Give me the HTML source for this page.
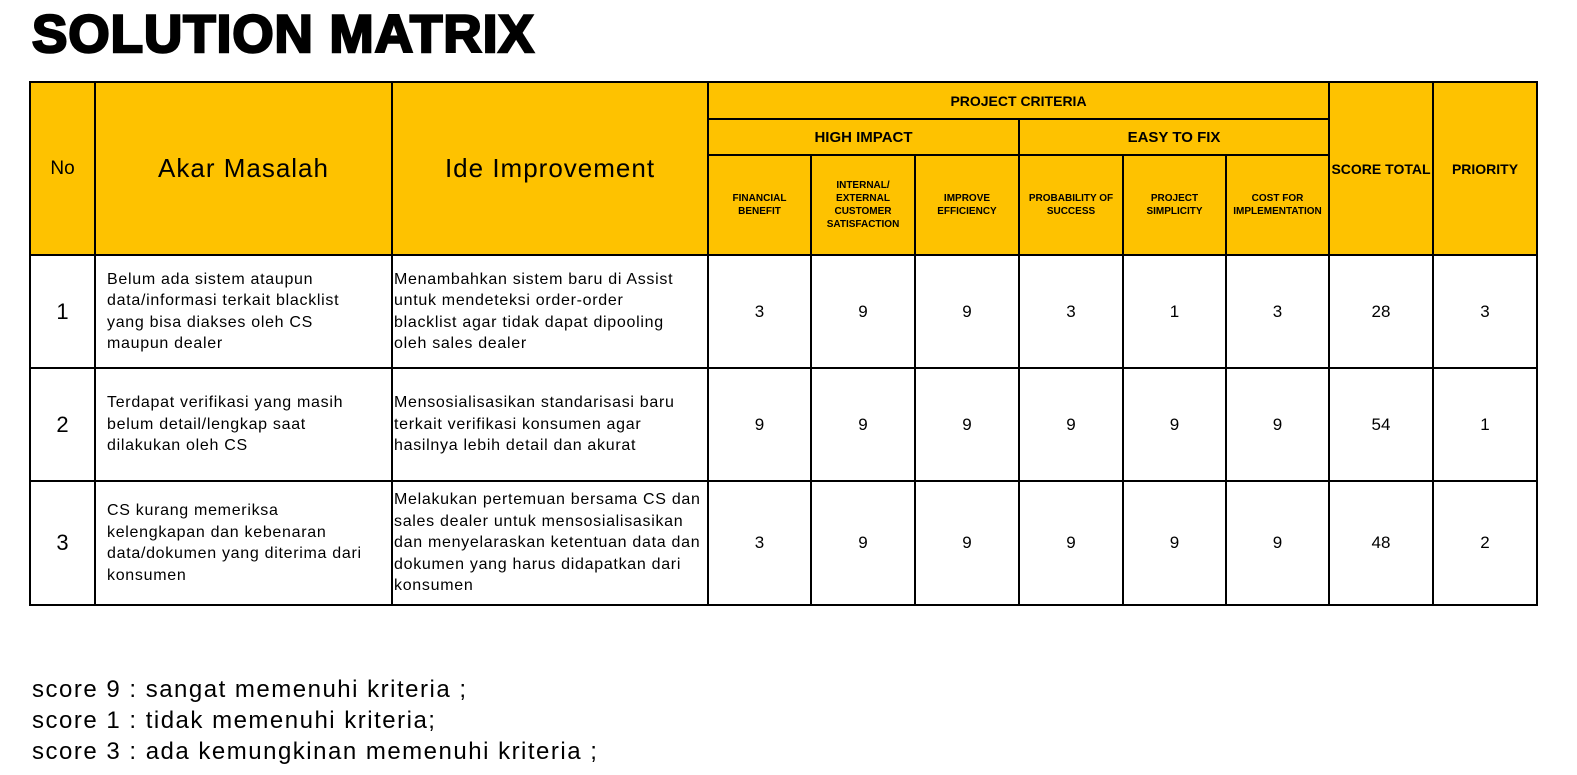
<!DOCTYPE html>
<html><head><meta charset="utf-8"><style>
body{margin:0;width:1577px;height:775px;background:#fff;position:relative;overflow:hidden;font-family:"Liberation Sans","DejaVu Sans",sans-serif;color:#000}
.c{position:absolute;box-sizing:border-box;display:flex;align-items:center;justify-content:center;text-align:center}
.y{background:#fec200}
.ln{position:absolute;background:#000}
#title{position:absolute;left:32px;top:5px;font-size:53px;font-weight:bold;-webkit-text-stroke:2.5px #000;letter-spacing:1px;transform-origin:left top;transform:scaleX(1.0);line-height:60px}
.sm{font-size:10px;font-weight:bold;line-height:13px}
.t{font-size:16px;line-height:21.5px;text-align:left;justify-content:flex-start;letter-spacing:0.7px;white-space:nowrap}
.n{font-size:17px}
.leg{position:absolute;left:32px;font-size:24px;line-height:31px;letter-spacing:1.5px}
</style></head><body>
<div id="title">SOLUTION MATRIX</div>
<div class="c y" style="left:30px;top:82px;width:1507px;height:173px"></div>
<div class="c n" style="left:30px;top:82px;width:65px;height:173px;font-size:19px">No</div>
<div class="c" style="left:95px;top:82px;width:297px;height:173px;font-size:26px;letter-spacing:1px">Akar Masalah</div>
<div class="c" style="left:392px;top:82px;width:316px;height:173px;font-size:26px;letter-spacing:1px">Ide Improvement</div>
<div class="c" style="left:708px;top:82px;width:621px;height:37px;font-size:14px;font-weight:bold">PROJECT CRITERIA</div>
<div class="c" style="left:708px;top:119px;width:311px;height:36px;font-size:15px;font-weight:bold">HIGH IMPACT</div>
<div class="c" style="left:1019px;top:119px;width:310px;height:36px;font-size:15px;font-weight:bold">EASY TO FIX</div>
<div class="c sm" style="left:708px;top:155px;width:103px;height:100px">FINANCIAL<br>BENEFIT</div>
<div class="c sm" style="left:811px;top:155px;width:104px;height:100px">INTERNAL/<br>EXTERNAL<br>CUSTOMER<br>SATISFACTION</div>
<div class="c sm" style="left:915px;top:155px;width:104px;height:100px">IMPROVE<br>EFFICIENCY</div>
<div class="c sm" style="left:1019px;top:155px;width:104px;height:100px">PROBABILITY OF<br>SUCCESS</div>
<div class="c sm" style="left:1123px;top:155px;width:103px;height:100px">PROJECT<br>SIMPLICITY</div>
<div class="c sm" style="left:1226px;top:155px;width:103px;height:100px">COST FOR<br>IMPLEMENTATION</div>
<div class="c" style="left:1329px;top:82px;width:104px;height:173px;font-size:14px;font-weight:bold">SCORE TOTAL</div>
<div class="c" style="left:1433px;top:82px;width:104px;height:173px;font-size:14px;font-weight:bold">PRIORITY</div>
<div id="rows"></div>
<div class="leg" style="top:674px">score 9 : sangat memenuhi kriteria ;</div>
<div class="leg" style="top:705px">score 1 : tidak memenuhi kriteria;</div>
<div class="leg" style="top:736px">score 3 : ada kemungkinan memenuhi kriteria ;</div>
<script>
const problems=["Belum ada sistem ataupun<br>data/informasi terkait blacklist<br>yang bisa diakses oleh CS<br>maupun dealer","Terdapat verifikasi yang masih<br>belum detail/lengkap saat<br>dilakukan oleh CS","CS kurang memeriksa<br>kelengkapan dan kebenaran<br>data/dokumen yang diterima dari<br>konsumen"];
const ideas=["Menambahkan sistem baru di Assist<br>untuk mendeteksi order-order<br>blacklist agar tidak dapat dipooling<br>oleh sales dealer","Mensosialisasikan standarisasi baru<br>terkait verifikasi konsumen agar<br>hasilnya lebih detail dan akurat","Melakukan pertemuan bersama CS dan<br>sales dealer untuk mensosialisasikan<br>dan menyelaraskan ketentuan data dan<br>dokumen yang harus didapatkan dari<br>konsumen"];
const scores=[[3,9,9,3,1,3],[9,9,9,9,9,9],[3,9,9,9,9,9]];
const totals=[28,54,48];
const priority=[3,1,2];
const xs=[30,95,392,708,811,915,1019,1123,1226,1329,1433,1537];
const ys=[255,368,481,605];
const R=document.getElementById('rows');
function cell(x,y,w,h,html,cls,name){const d=document.createElement('div');d.className='c '+cls;d.style.cssText=`left:${x}px;top:${y}px;width:${w}px;height:${h}px`;d.innerHTML=html;


R.appendChild(d);}
for(let r=0;r<3;r++){const y=ys[r],h=ys[r+1]-y;
cell(xs[0],y,xs[1]-xs[0],h,String(r+1),'n','row-number');R.lastChild.style.fontSize='22px';
cell(xs[1]+12,y,xs[2]-xs[1]-12,h,problems[r],'t','problem-text');
cell(xs[2]+2,y,xs[3]-xs[2]-2,h,ideas[r],'t','idea-text');
for(let k=0;k<6;k++)cell(xs[3+k],y,xs[4+k]-xs[3+k],h,scores[r][k],'n','score-cell');
cell(xs[9],y,xs[10]-xs[9],h,totals[r],'n','score-total');
cell(xs[10],y,xs[11]-xs[10],h,priority[r],'n','priority-value');}
function ln(x,y,w,h){const d=document.createElement('div');d.className='ln';d.style.cssText=`left:${x}px;top:${y}px;width:${w}px;height:${h}px`;


R.appendChild(d);}
xs.forEach(x=>{let top=82;if([811,915,1123,1226].includes(x))top=155;if(x===1019)top=119;ln(x-1,top,2,605-top);});
ln(29,81,1509,2);ln(707,118,623,2);ln(707,154,623,2);
ys.forEach(y=>ln(29,y-1,1509,2));
</script>
</body></html>
